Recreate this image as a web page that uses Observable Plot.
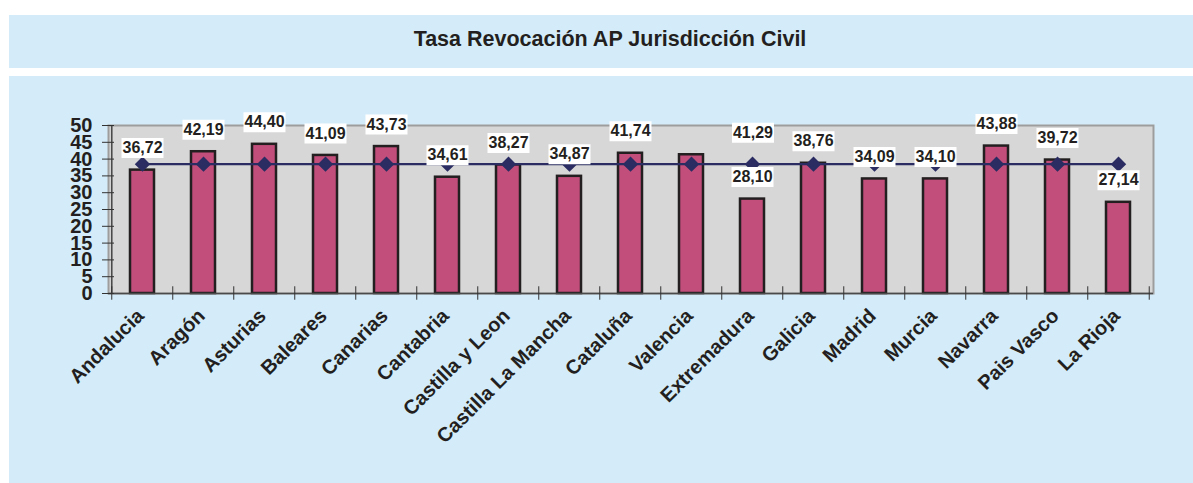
<!DOCTYPE html>
<html>
<head>
<meta charset="utf-8">
<script src="https://cdn.jsdelivr.net/npm/d3@7"></script>
<script src="https://cdn.jsdelivr.net/npm/@observablehq/plot@0.6"></script>
<style>
  html, body { margin: 0; padding: 0; background: #ffffff; width: 1193px; height: 483px; overflow: hidden; }
  body { position: relative; font-family: "Liberation Sans", Arial, Helvetica, sans-serif; }
  #titulo {
    position: absolute; left: 9px; top: 15px; width: 1184px; height: 53px; box-sizing: border-box;
    padding-bottom: 4px; padding-left: 18px;
    background: #d4ecf9; color: #231f20; font-weight: bold; font-size: 21.5px;
    display: flex; align-items: center; justify-content: center;
  }
  #panel {
    position: absolute; left: 9px; top: 76px; width: 1184px; height: 407px;
    background: #d4ecf9;
  }
  #panel svg { display: block; }
</style>
</head>
<body>
<div id="titulo">Tasa Revocación AP Jurisdicción Civil</div>
<div id="panel"></div>
<script>
const categorias = ["Andalucia", "Aragón", "Asturias", "Baleares", "Canarias", "Cantabria",
  "Castilla y Leon", "Castilla La Mancha", "Cataluña", "Valencia", "Extremadura", "Galicia",
  "Madrid", "Murcia", "Navarra", "Pais Vasco", "La Rioja"];
const tasas = [36.72, 42.19, 44.40, 41.09, 43.73, 34.61, 38.27, 34.87, 41.74, 41.29, 28.10, 38.76,
  34.09, 34.10, 43.88, 39.72, 27.14];
const media = [38.5, 38.5, 38.5, 38.5, 38.5, 38.5, 38.5, 38.5, 38.5, 38.5, 38.5, 38.5,
  38.5, 38.5, 38.5, 38.5, 38.5];
const yTicks = [0, 5, 10, 15, 20, 25, 30, 35, 40, 45, 50];

const datos = categorias.map((c, i) => ({
  cat: c, tasa: tasas[i], media: media[i],
  etiqueta: tasas[i].toFixed(2).replace(".", ",")
}));

const W = 1184, H = 407, mL = 99, mR = 40, mT = 49, mB = 190;
const step = (W - mL - mR) / categorias.length;
const ink = "#231f20";
const navy = "#2b2d62";

const caja = { draw(ctx) { ctx.rect(-21, -10, 42, 20); } };

const normales = datos.filter(d => d.cat !== "Valencia");
const desplazadas = datos.filter(d => d.cat === "Valencia");

const chart = Plot.plot({
  width: W, height: H,
  marginLeft: mL, marginRight: mR, marginTop: mT, marginBottom: mB,
  style: { background: "transparent", fontFamily: "'Liberation Sans', Arial, sans-serif", color: ink },
  x: { domain: categorias, paddingInner: 0.6, paddingOuter: 0.3, label: null },
  y: { domain: [0, 50], label: null },
  marks: [
    Plot.frame({ fill: "#d7d7d7", stroke: "#9d9d9d", strokeWidth: 2 }),
    Plot.barY(datos, { x: "cat", y: "tasa", fill: "#c24e7b", stroke: ink, strokeWidth: 2.5 }),
    Plot.lineY(datos, { x: "cat", y: "media", stroke: navy, strokeWidth: 2.4 }),
    Plot.dot(datos, { x: "cat", y: "media", symbol: "diamond2", r: 6, fill: navy, stroke: navy }),
    // value labels with white boxes
    Plot.dot(normales, { x: "cat", y: "tasa", symbol: caja, fill: "white", stroke: "none", dy: -22 }),
    Plot.text(normales, { x: "cat", y: "tasa", text: "etiqueta", dy: -22, fontSize: 16, fontWeight: "bold", fill: ink }),
    Plot.dot(desplazadas, { x: "cat", y: "tasa", symbol: caja, fill: "white", stroke: "none", dy: -22, dx: step }),
    Plot.text(desplazadas, { x: "cat", y: "tasa", text: "etiqueta", dy: -22, dx: step, fontSize: 16, fontWeight: "bold", fill: ink }),
    // axes lines
    Plot.ruleY([0], { stroke: "#4a4a4a", strokeWidth: 1.6 }),
    Plot.ruleX([categorias[0]], { y1: 0, y2: 50, dx: -step / 2, stroke: "#4a4a4a", strokeWidth: 1.6 }),
    // x boundary ticks
    Plot.ruleX(categorias, { x: d => d, y1: -2, y2: 2, dx: -step / 2, stroke: "#333", strokeWidth: 1 }),
    Plot.ruleX([categorias[categorias.length - 1]], { y1: -2, y2: 2, dx: step / 2, stroke: "#333", strokeWidth: 1 }),
    // y axis ticks crossing the axis
    Plot.axisY({ ticks: yTicks, tickSize: 12, dx: 6, tickFormat: () => "", stroke: "#333" }),
    Plot.axisY({ ticks: yTicks, tickSize: 0, tickPadding: 16, fontSize: 20, fontWeight: "bold", fill: ink }),
    Plot.axisX({ tickSize: 0, tickRotate: -45, tickPadding: 19, fontSize: 20, fontWeight: "bold", fill: ink, dx: -2 })
  ]
});
document.getElementById("panel").appendChild(chart);
</script>
</body>
</html>
